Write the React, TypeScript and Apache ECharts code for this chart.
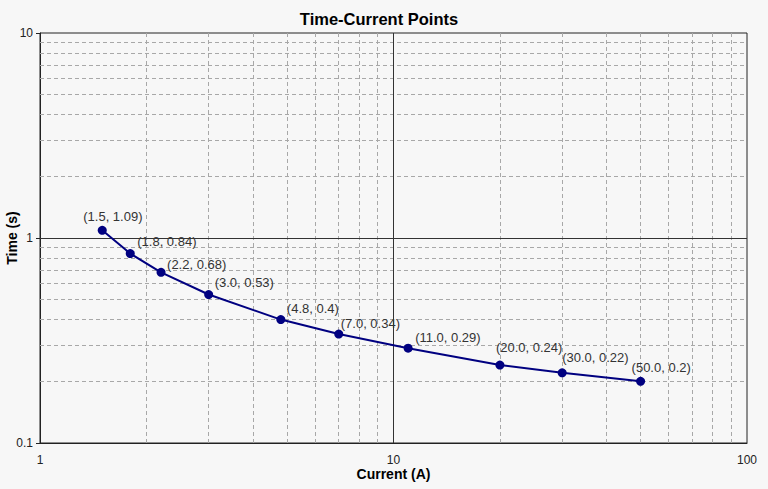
import React, { useEffect, useRef } from "react";
import * as echarts from "echarts";

const currents = [1.5, 1.8, 2.2, 3.0, 4.8, 7.0, 11.0, 20.0, 30.0, 50.0];
const times = [1.09, 0.84, 0.68, 0.53, 0.4, 0.34, 0.29, 0.24, 0.22, 0.2];
const xMinorTicks = [2, 3, 4, 5, 6, 7, 8, 9, 20, 30, 40, 50, 60, 70, 80, 90];
const yMinorTicks = [0.2, 0.3, 0.4, 0.5, 0.6, 0.7, 0.8, 0.9, 2, 3, 4, 5, 6, 7, 8, 9];
const xMajor = [10];
const yMajor = [1];
// label nudges (styling only)
const labelShift: [number, number][] = [
  [-19, -3], [7, -1], [6, 3], [6, -1], [6, 0], [2, 0], [7, 0], [-4, -7], [0, -4], [-9, -3],
];

const FONT = "'Liberation Sans', Arial, sans-serif";

export default function App() {
  const ref = useRef<HTMLDivElement>(null);
  useEffect(() => {
    if (!ref.current) return;
    const chart = echarts.init(ref.current, null, { renderer: "svg" });
    const minorLine = { color: "#a8a8a8", type: [4, 3] as any, width: 1 };
    const majorLine = { color: "#333", type: "solid" as any, width: 1 };
    chart.setOption({
      animation: false,
      backgroundColor: "#f7f7f7",
      textStyle: { fontFamily: FONT },
      title: {
        text: "Time-Current Points",
        left: 374,
        top: 5,
        textAlign: "center",
        textStyle: { fontSize: 16.5, fontWeight: "bold", color: "#000", fontFamily: FONT },
      },
      grid: {
        left: 40,
        top: 33,
        right: 21,
        bottom: 46,
        outerBoundsMode: "none",
        containLabel: false,
        show: true,
        borderColor: "#222",
        borderWidth: 1,
        backgroundColor: "transparent",
      },
      xAxis: {
        type: "log",
        logBase: 10,
        min: 1,
        max: 100,
        name: "Current (A)",
        nameLocation: "middle",
        nameGap: 24,
        nameMoveOverlap: false,
        nameTextStyle: { fontSize: 14, fontWeight: "bold", color: "#000", fontFamily: FONT },
        axisLine: { show: true, lineStyle: { color: "#222" } },
        axisTick: { show: false },
        axisLabel: { fontSize: 12, color: "#222", margin: 11, fontFamily: FONT },
        splitLine: { show: false },
      },
      yAxis: {
        type: "log",
        logBase: 10,
        min: 0.1,
        max: 10,
        name: "Time (s)",
        nameLocation: "middle",
        nameGap: 21,
        nameMoveOverlap: false,
        nameTextStyle: { fontSize: 14, fontWeight: "bold", color: "#000", fontFamily: FONT },
        axisLine: { show: true, lineStyle: { color: "#222" } },
        axisTick: { show: true, length: 4, lineStyle: { color: "#222" } },
        axisLabel: {
          fontSize: 12,
          color: "#222",
          margin: 7,
          fontFamily: FONT,
          formatter: (v: number) => String(Math.round(v * 10) / 10),
        },
        splitLine: { show: false },
      },
      series: [
        {
          type: "line",
          data: [],
          silent: true,
          markLine: {
            silent: true,
            symbol: "none",
            label: { show: false },
            animation: false,
            data: [
              ...xMinorTicks.map((v) => ({ xAxis: v, lineStyle: minorLine })),
              ...yMinorTicks.map((v) => ({ yAxis: v, lineStyle: minorLine })),
              ...xMajor.map((v) => ({ xAxis: v, lineStyle: majorLine })),
              ...yMajor.map((v) => ({ yAxis: v, lineStyle: majorLine })),
            ],
          },
        },
        {
          type: "line",
          data: currents.map((c, i) => ({
            value: [c, times[i]],
            label: { offset: labelShift[i] },
          })),
          lineStyle: { color: "#000080", width: 2 },
          itemStyle: { color: "#000080" },
          symbol: "circle",
          symbolSize: 9,
          label: {
            show: true,
            position: "top",
            align: "left",
            distance: 0,
            fontSize: 13,
            color: "#333",
            fontFamily: FONT,
            formatter: (p: any) => `(${p.value[0].toFixed(1)}, ${p.value[1]})`,
          },
          z: 5,
        },
      ],
    });
    return () => chart.dispose();
  }, []);
  return (
    <div
      ref={ref}
      style={{ position: "absolute", left: 0, top: 0, width: 768, height: 489 }}
    />
  );
}
